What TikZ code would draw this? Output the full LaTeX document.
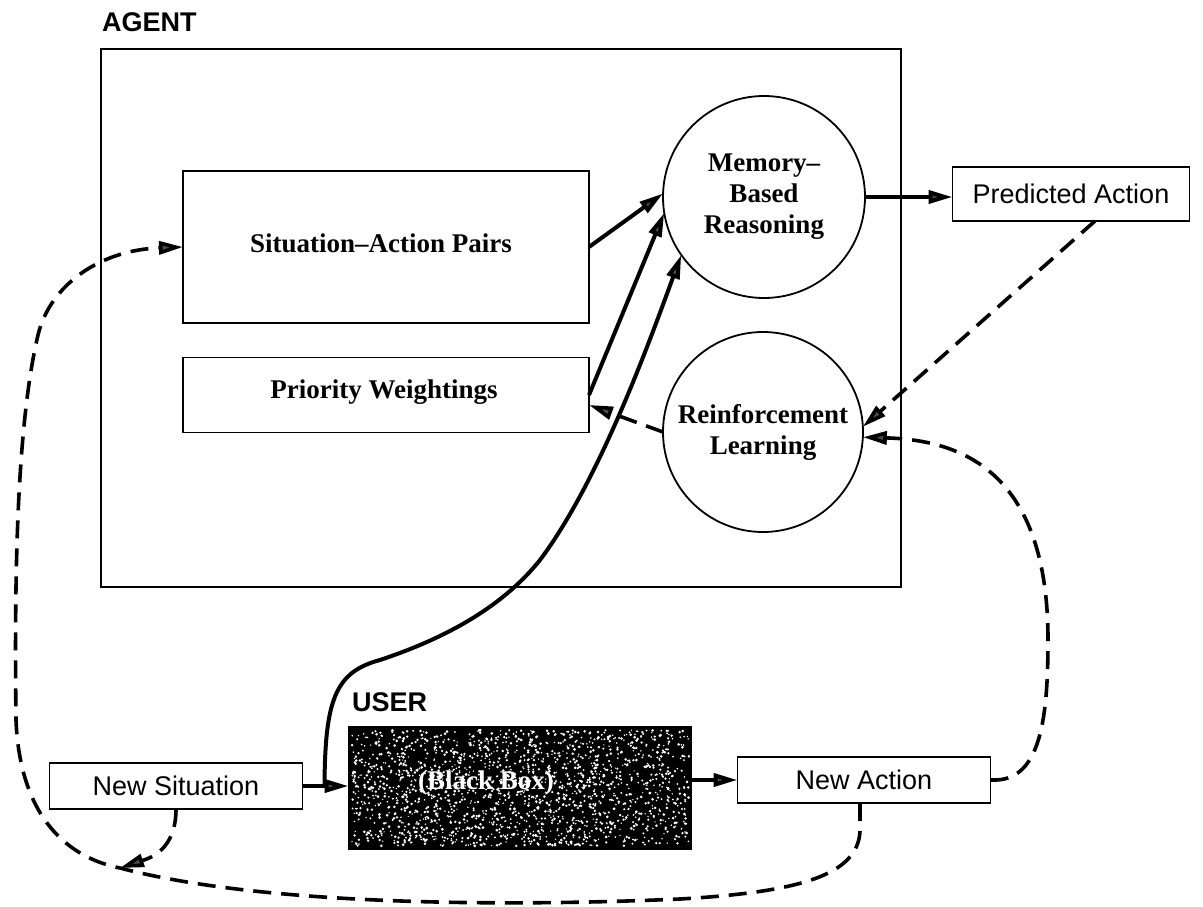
\documentclass[tikz,border=0pt]{standalone}
\usepackage{fontspec}
\setmainfont{Liberation Serif}
\setsansfont{Liberation Sans}
\usetikzlibrary{arrows.meta,calc}
\begin{document}
\begin{tikzpicture}[x=1pt,y=-1pt,
  box/.style={draw, line width=1.8pt, inner sep=0pt, outer sep=0pt},
  ring/.style={draw, circle, line width=1.8pt, inner sep=0pt, outer sep=0pt,
    minimum size=202pt, align=center,
    font=\fontsize{27}{31}\selectfont\bfseries},
  sanslbl/.style={font=\fontsize{27}{32}\selectfont\sffamily, inner sep=0pt},
  titlelbl/.style={font=\fontsize{27}{32}\selectfont\sffamily\bfseries, inner sep=0pt, anchor=west},
  serlbl/.style={font=\fontsize{27}{32}\selectfont\bfseries, inner sep=0pt},
  tip/.style={-{Triangle[length=24pt, width=13pt, fill=black!70]}},
  flow/.style={tip, line width=4pt},
  fb/.style={tip, line width=3.6pt, dash pattern=on 18pt off 10pt}
]
\useasboundingbox (0,0) rectangle (1203,907);

% agent frame and section titles
\node[box, minimum width=800pt, minimum height=538pt] (agent) at (501,318) {};
\node[titlelbl] (agentlbl) at (102,22) {AGENT};
\node[titlelbl] (userlbl) at (352,702) {USER};

% agent components
\node[box, minimum width=406pt, minimum height=152pt] (SAP) at (386,247) {};
\node[serlbl] (saptxt) at (381,243) {Situation--Action Pairs};
\node[box, minimum width=406pt, minimum height=75pt] (PW) at (386,395) {};
\node[serlbl] (pwtxt) at (384,392) {Priority Weightings};
\node[ring] (MBR) at (764,197) {Memory--\\Based\\Reasoning};
\node[ring, minimum size=200pt] (RL) at (763,432) {Reinforcement\\Learning};

% outside boxes
\node[box, minimum width=237pt, minimum height=54pt, sanslbl] (PA) at (1071,194) {Predicted Action};
\node[box, minimum width=253pt, minimum height=46pt, sanslbl] (NS) at (176,786) {New Situation};
\node[box, minimum width=253pt, minimum height=46pt, sanslbl] (NA) at (864,780) {New Action};

% the user as a black box, printed with a grainy screen
\node[box, fill=black, minimum width=343pt, minimum height=122pt] (BB) at (520,788) {};
\pgfmathsetseed{7}
\foreach \k in {1,...,1900}{
  \pgfmathsetmacro{\sx}{352+337*rnd}
  \pgfmathsetmacro{\sy}{730+116*rnd}
  \pgfmathsetmacro{\sr}{0.7+0.8*rnd}
  \fill[white] (\sx,\sy) circle (\sr pt);
}
\node[serlbl, text=white] (bbtxt) at (486,783) {(Black Box)};

% helper points
\coordinate (split) at ($(NS.east)+(22,0)$);
\coordinate (merge) at (120,868);

% solid flows
\draw[flow] (SAP.east) -- (MBR.178);
\draw[flow] (PW.east) -- (MBR.189);
\draw[flow] (MBR.east) -- (MBR.east -| PA.west);
\draw[flow] (NS.east) -- (NS.east -| BB.west);
\draw[flow] (NA.west -| BB.east) -- (NA.west);
\draw[flow] (split) .. controls (325,700) and (335,672) .. (380,660)
  .. controls (440,640) and (500,610) .. (540,560)
  .. controls (600,480) and (650,340) .. (MBR.215);

% dashed feedback
\draw[fb] ($(PA.south)+(24,0)$) -- (RL.3);
\draw[fb] (NA.east) -- ++(6,0) .. controls (1040,778) and (1048,720) .. (1048,640)
  .. controls (1048,470) and (960,440) .. (RL.-3);
\draw[fb] (RL.180) -- ($(PW.east)+(0,10)$);
\draw[fb] (NS.south) .. controls (176,850) and (150,858) .. (merge);
\draw[fb] ($(NA.south)+(-4,0)$) -- ++(0,28) .. controls (858,875) and (800,892) .. (680,899)
  .. controls (500,907) and (260,905) .. (merge)
  .. controls (70,858) and (20,820) .. (16,720)
  .. controls (14,560) and (18,420) .. (38,335)
  .. controls (50,285) and (100,250) .. (SAP.west);
\end{tikzpicture}
\end{document}
